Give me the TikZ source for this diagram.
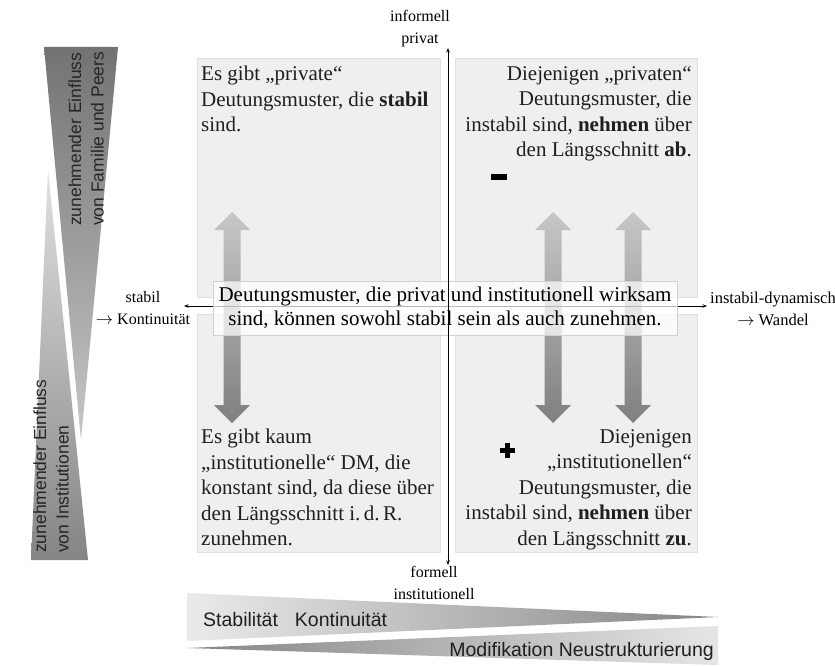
\documentclass[tikz,border=0pt]{standalone}
\usepackage{fontspec}
\setmainfont{Liberation Serif}
\newfontfamily\sansf{Liberation Sans}
\usetikzlibrary{arrows.meta}
\definecolor{quadfill}{HTML}{EFEFEF}
\definecolor{quadline}{HTML}{E0E0E0}
\begin{document}
\begin{tikzpicture}[x=1pt,y=-1pt,
  quad/.style={fill=quadfill, draw=quadline, line width=0.8pt},
  body/.style={font=\fontsize{21}{25.5}\selectfont, inner sep=0pt, text=black!88},
  lab/.style={font=\fontsize{16}{22}\selectfont, inner sep=0pt, align=center},
  wtext/.style={font=\sansf\fontsize{17.5}{22.5}\selectfont, inner sep=0pt, align=left, rotate=90, text=black!85},
  htext/.style={font=\sansf\fontsize{19.5}{22}\selectfont, inner sep=0pt, text=black!88},
  axis/.style={line width=0.7pt, {Stealth[length=4.5pt,width=3.5pt]}-{Stealth[length=4.5pt,width=3.5pt]}},
  cbox/.style={fill=white, fill opacity=0.72, text opacity=1, draw=black!18, line width=0.8pt,
    minimum width=464pt, minimum height=54pt, align=center, inner sep=0pt,
    font=\fontsize{21}{24.5}\selectfont},
  dblarr/.pic={\shade[top color=black!22, bottom color=black!50]
    (0,0) -- (18,18) -- (8.5,18) -- (8.5,193) -- (18,193) -- (0,211) -- (-18,193)
    -- (-8.5,193) -- (-8.5,18) -- (-18,18) -- cycle;}
]
\useasboundingbox (0,0) rectangle (835,666);
\fill[white] (0,0) rectangle (835,666);

% vertical wedges
\shade[top color=black!55, bottom color=black!22] (44,47) -- (118,47) -- (81,440) -- cycle;
\shade[top color=black!12, bottom color=black!48] (48,170) -- (88,560) -- (31,560) -- cycle;
\node[wtext, anchor=west] (famtxt) at (86,226) {zunehmender Einfluss\\von Familie und Peers};
\node[wtext, anchor=west] (insttxt) at (51,553) {zunehmender Einfluss\\von Institutionen};

% horizontal wedges
\shade[left color=black!8, right color=black!48] (187,593) -- (718,617) -- (187,641) -- cycle;
\shade[left color=black!48, right color=black!10] (187,648) -- (718,626) -- (718,665) -- cycle;
\node[htext, anchor=base west] (stabtxt) at (203,626) {Stabilität\hspace{17pt}Kontinuität};
\node[htext, anchor=base east] (modtxt) at (714,656) {Modifikation Neustrukturierung};

% quadrants
\draw[quad] (197,58) rectangle (440,297);
\draw[quad] (455,58) rectangle (697,297);
\draw[quad] (197,314) rectangle (440,552);
\draw[quad] (455,314) rectangle (697,552);

\node[body, anchor=north west, align=left] (tl) at (201,66)
  {Es gibt „private“\\Deutungsmuster, die \textbf{stabil}\\sind.};
\node[body, anchor=north east, align=right] (tr) at (692,66)
  {Diejenigen „privaten“\\Deutungsmuster, die\\instabil sind, \textbf{nehmen} über\\den Längsschnitt \textbf{ab}.};
\node[body, anchor=north west, align=left] (bl) at (201,429)
  {Es gibt kaum\\„institutionelle“ DM, die\\konstant sind, da diese über\\den Längsschnitt i.\,d.\,R.\\zunehmen.};
\node[body, anchor=north east, align=right] (br) at (692,429)
  {Diejenigen\\„institutionellen“\\Deutungsmuster, die\\instabil sind, \textbf{nehmen} über\\den Längsschnitt \textbf{zu}.};

% minus and plus
\fill (491,174) rectangle (507,180);
\fill (504.5,442.5) rectangle (509.5,457.5);
\fill (499.5,447.5) rectangle (514.5,452.5);

% double arrows
\pic at (232,212) {dblarr};
\pic at (553,212) {dblarr};
\pic at (633,212) {dblarr};

% horizontal axis
\coordinate (hl) at (184,306);
\coordinate (hr) at (707,306);
\draw[axis] (hl) -- (hr);

% centre box
\node[cbox] (mid) at (445,308)
  {Deutungsmuster, die privat und institutionell wirksam\\sind, können sowohl stabil sein als auch zunehmen.};

% vertical axis
\coordinate (vt) at (448,48);
\coordinate (vb) at (448,565);
\draw[axis] (vb) -- (vt);

% axis labels
\node[lab] (infl) at (420,29) {informell\\privat};
\node[lab] (forml) at (434,583) {formell\\institutionell};
\node[lab] (stab) at (143,308) {stabil\\$\rightarrow$ Kontinuität};
\node[lab, font=\fontsize{16.5}{22}\selectfont] (inst) at (773,309) {instabil-dynamisch\\$\rightarrow$ Wandel};
\end{tikzpicture}
\end{document}
